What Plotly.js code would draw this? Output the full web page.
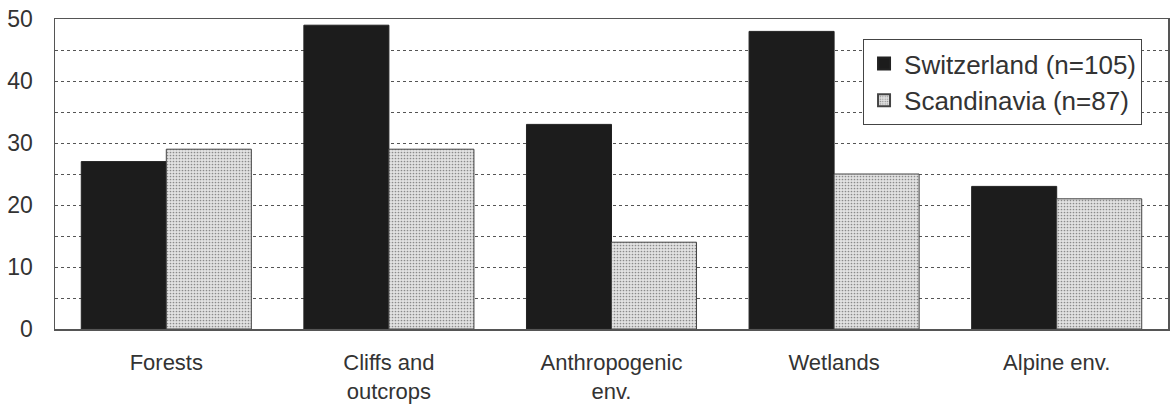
<!DOCTYPE html>
<html><head><meta charset="utf-8">
<script src="https://cdn.plot.ly/plotly-3.0.1.min.js"></script>
<style>html,body{margin:0;padding:0;background:#fff}#chart{width:1170px;height:407px}</style>
</head><body><div id="chart"></div>
<script>
const categories = ["Forests", "Cliffs and<br>outcrops", "Anthropogenic<br>env.", "Wetlands", "Alpine env."];
const switzerland = [27, 49, 33, 48, 23];
const scandinavia = [29, 29, 14, 25, 21];
const seriesNames = ["Switzerland (n=105)", "Scandinavia (n=87)"];
const yTicks = [0, 10, 20, 30, 40, 50];

const data = [
  {type:'bar', x:categories, y:switzerland, name:seriesNames[0],
   marker:{color:'#1c1c1c', line:{color:'#222', width:1}}},
  {type:'bar', x:categories, y:scandinavia, name:seriesNames[1],
   marker:{color:'#dcdcdc', line:{color:'#444', width:1},
     pattern:{shape:'.', fgcolor:'#8a8a8a', bgcolor:'#e2e2e2', size:3, solidity:0.25}}}
];
const layout = {
  width:1170, height:407,
  margin:{l:55, r:2, t:19, b:78},
  paper_bgcolor:'#fff', plot_bgcolor:'#fff',
  font:{family:'"Liberation Sans", Arial, sans-serif', color:'#333', size:22},
  barmode:'group', bargap:0.236, bargroupgap:0,
  showlegend:true,
  legend:{x:0.726, y:0.935, xanchor:'left', yanchor:'top',
    bgcolor:'#fff', bordercolor:'#444', borderwidth:1,
    font:{size:26, color:'#333'}, tracegroupgap:0, itemsizing:'constant', itemwidth:30},
  xaxis:{showline:true, linecolor:'#555', linewidth:1.5, mirror:true,
    ticks:'', ticklabelstandoff:13, tickfont:{size:22, color:'#333'}, showgrid:false},
  yaxis:{range:[0,50], tickvals:yTicks, showline:true, linecolor:'#555', linewidth:1.5, mirror:true,
    ticks:'', ticklabelstandoff:16, tickfont:{size:23, color:'#333'},
    showgrid:true, gridcolor:'#555', gridwidth:1, griddash:'dot', zeroline:false,
    minor:{dtick:5, showgrid:true, gridcolor:'#555', gridwidth:1, griddash:'dot'}}
};
Plotly.newPlot('chart', data, layout, {displayModeBar:false, staticPlot:true});
</script></body></html>
